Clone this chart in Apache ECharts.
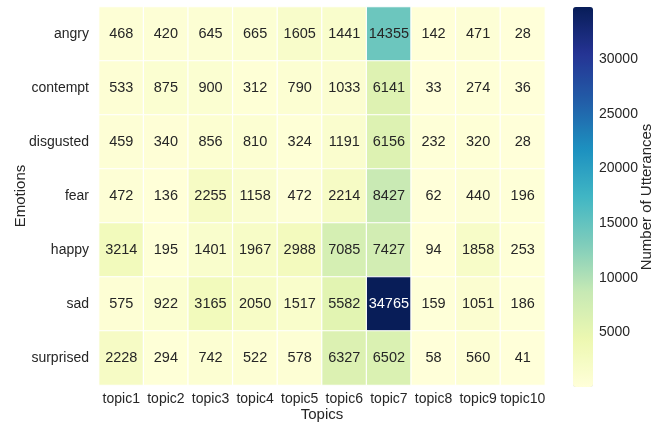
<!DOCTYPE html>
<html>
<head>
<meta charset="utf-8">
<script src="https://cdn.jsdelivr.net/npm/echarts@6/dist/echarts.min.js"></script>
<style>
  html, body { margin: 0; padding: 0; background: #fff; }
  #chart { width: 667px; height: 427px; }
</style>
</head>
<body>
<div id="chart"></div>
<script>
var topics = ['topic1', 'topic2', 'topic3', 'topic4', 'topic5', 'topic6', 'topic7', 'topic8', 'topic9', 'topic10'];
var emotions = ['angry', 'contempt', 'disgusted', 'fear', 'happy', 'sad', 'surprised'];

var angry     = [468, 420, 645, 665, 1605, 1441, 14355, 142, 471, 28];
var contempt  = [533, 875, 900, 312, 790, 1033, 6141, 33, 274, 36];
var disgusted = [459, 340, 856, 810, 324, 1191, 6156, 232, 320, 28];
var fear      = [472, 136, 2255, 1158, 472, 2214, 8427, 62, 440, 196];
var happy     = [3214, 195, 1401, 1967, 2988, 7085, 7427, 94, 1858, 253];
var sad       = [575, 922, 3165, 2050, 1517, 5582, 34765, 159, 1051, 186];
var surprised = [2228, 294, 742, 522, 578, 6327, 6502, 58, 560, 41];

var colorbarTicks = [5000, 10000, 15000, 20000, 25000, 30000];

// YlGnBu
var palette = ['#ffffd9', '#edf8b1', '#c7e9b4', '#7fcdbb', '#41b6c4', '#1d91c0', '#225ea8', '#253494', '#081d58'];

var rows = [angry, contempt, disgusted, fear, happy, sad, surprised];
var vmin = Infinity, vmax = -Infinity;
var data = [];
rows.forEach(function (row) {
  row.forEach(function (v) {
    vmin = Math.min(vmin, v);
    vmax = Math.max(vmax, v);
  });
});
rows.forEach(function (row, r) {
  row.forEach(function (v, c) {
    var dark = (v - vmin) / (vmax - vmin) > 0.6;
    data.push({ value: [c, r, v], label: { color: dark ? '#ffffff' : '#262626' } });
  });
});

var font = 'Liberation Sans, Arial, sans-serif';
var txt = '#262626';

var chart = echarts.init(document.getElementById('chart'));
chart.setOption({
  animation: false,
  textStyle: { fontFamily: font },
  grid: [
    { left: 99, top: 7, width: 446, height: 380 },
    { left: 573, top: 7, width: 20, height: 380 }
  ],
  xAxis: [
    {
      type: 'category', data: topics, gridIndex: 0,
      axisLine: { show: false }, axisTick: { show: false }, splitArea: { show: false },
      axisLabel: { color: txt, fontSize: 14, margin: 7, interval: 0, fontFamily: font },
      name: 'Topics', nameLocation: 'middle', nameGap: 22, nameMoveOverlap: false,
      nameTextStyle: { color: txt, fontSize: 15, fontFamily: font }
    },
    { type: 'value', gridIndex: 1, show: false }
  ],
  yAxis: [
    {
      type: 'category', data: emotions, inverse: true, gridIndex: 0,
      axisLine: { show: false }, axisTick: { show: false },
      axisLabel: { color: txt, fontSize: 14, margin: 10, interval: 0, fontFamily: font },
      name: 'Emotions', nameLocation: 'middle', nameGap: 71, nameMoveOverlap: false,
      nameTextStyle: { color: txt, fontSize: 15, fontFamily: font }
    },
    {
      type: 'value', gridIndex: 1, position: 'right', min: vmin, max: vmax,
      axisLine: { show: false }, splitLine: { show: false },
      axisTick: { show: true, length: 4, customValues: colorbarTicks, lineStyle: { color: txt } },
      axisLabel: {
        show: true, customValues: colorbarTicks, color: txt, fontSize: 14, margin: 6, fontFamily: font,
        formatter: function (v) { return String(v); }
      },
      name: 'Number of Utterances', nameLocation: 'middle', nameRotate: 90, nameGap: 46, nameMoveOverlap: false,
      nameTextStyle: { color: txt, fontSize: 15, fontFamily: font }
    }
  ],
  visualMap: {
    type: 'continuous', seriesIndex: 0, min: vmin, max: vmax,
    calculable: false, hoverLink: false,
    orient: 'vertical', left: 573, top: 7, padding: 0,
    itemWidth: 20, itemHeight: 380,
    inRange: { color: palette }
  },
  series: [
    {
      type: 'heatmap', xAxisIndex: 0, yAxisIndex: 0,
      data: data,
      label: { show: true, fontSize: 14.5, fontFamily: font, formatter: function (p) { return p.value[2]; } },
      itemStyle: { borderColor: '#ffffff', borderWidth: 1.2 },
      emphasis: { disabled: true }
    },
    { type: 'scatter', xAxisIndex: 1, yAxisIndex: 1, data: [] }
  ]
});
</script>
</body>
</html>
